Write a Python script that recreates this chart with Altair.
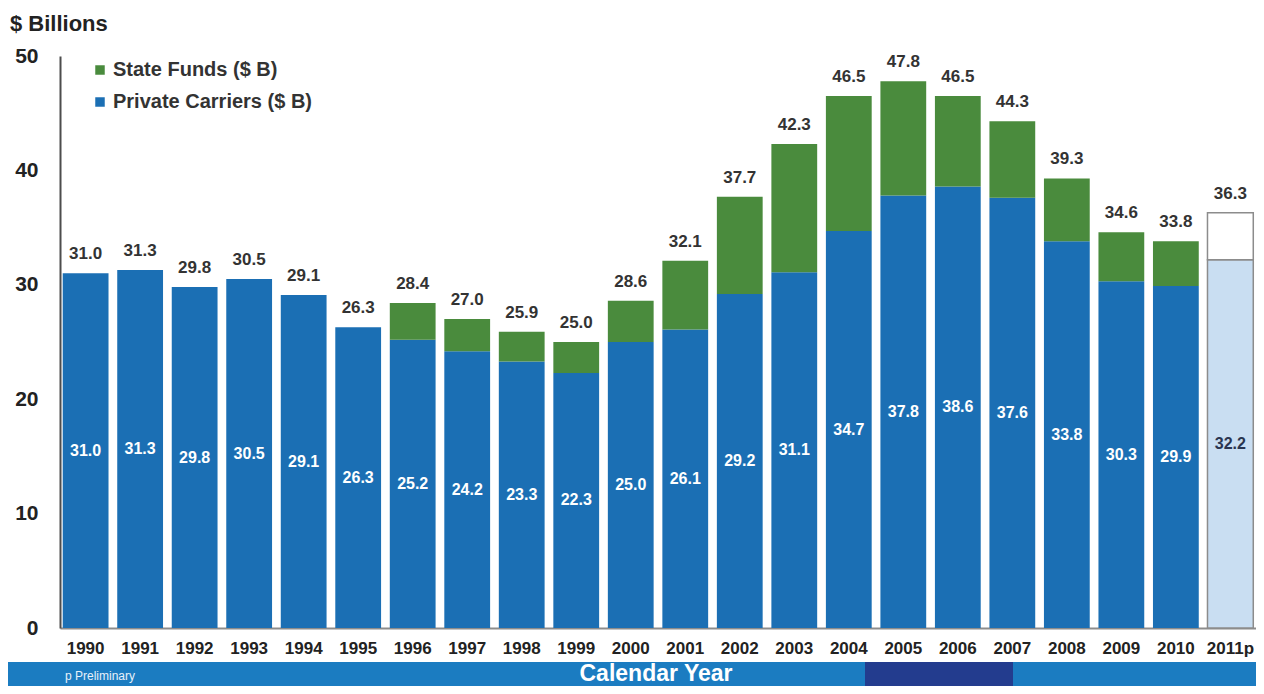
import altair as alt
import pandas as pd

FONT = "Liberation Sans"

years = ["1990", "1991", "1992", "1993", "1994", "1995", "1996", "1997", "1998", "1999",
         "2000", "2001", "2002", "2003", "2004", "2005", "2006", "2007", "2008", "2009",
         "2010", "2011p"]
private = [31.0, 31.3, 29.8, 30.5, 29.1, 26.3, 25.2, 24.2, 23.3, 22.3,
           25.0, 26.1, 29.2, 31.1, 34.7, 37.8, 38.6, 37.6, 33.8, 30.3,
           29.9, 32.2]
totals = [31.0, 31.3, 29.8, 30.5, 29.1, 26.3, 28.4, 27.0, 25.9, 25.0,
          28.6, 32.1, 37.7, 42.3, 46.5, 47.8, 46.5, 44.3, 39.3, 34.6,
          33.8, 36.3]
series = ["State Funds ($ B)", "Private Carriers ($ B)"]
prelim_keys = ["State Funds (prelim)", "Private Carriers (prelim)"]
colors = ["#4a8b3d", "#1b6fb4", "#ffffff", "#c9def2"]

rows = []
for yr, p, t in zip(years, private, totals):
    pre = yr.endswith("p")
    rows.append(dict(year=yr, key=prelim_keys[1] if pre else series[1],
                     y0=0.0, y1=p, pre=pre))
    if t - p > 0.05:
        rows.append(dict(year=yr, key=prelim_keys[0] if pre else series[0],
                         y0=p, y1=t, pre=pre))
bars_df = pd.DataFrame(rows)
priv_df = pd.DataFrame(dict(year=years, value=private, mid=[v / 2 for v in private],
                            pre=[y.endswith("p") for y in years]))
tot_df = pd.DataFrame(dict(year=years, total=totals))

x_enc = alt.X(
    "year:N", sort=years,
    scale=alt.Scale(paddingInner=0.16, paddingOuter=0.05),
    axis=alt.Axis(title=None, labelAngle=0, labelFont=FONT, labelFontSize=17,
                  labelFontWeight="bold", labelColor="#222222", ticks=False,
                  domainColor="#8c8c8c", domainWidth=2, labelPadding=12),
)
yscale = alt.Scale(domain=[0, 50], nice=False)
y_axis = alt.Axis(title=None, values=[0, 10, 20, 30, 40, 50], grid=False, ticks=False,
                  labelFont=FONT, labelFontSize=21, labelFontWeight="bold",
                  labelColor="#222222", domainColor="#4d4d4d", domainWidth=2,
                  labelPadding=22, labelOverlap=False)

bars = alt.Chart(bars_df).mark_bar(strokeWidth=1.5).encode(
    x=x_enc,
    y=alt.Y("y1:Q", scale=yscale, axis=y_axis),
    y2="y0:Q",
    color=alt.Color(
        "key:N",
        scale=alt.Scale(domain=series + prelim_keys, range=colors),
        legend=alt.Legend(
            title=None, values=series, orient="none", legendX=30, legendY=4,
            symbolType="square", symbolSize=90, symbolStrokeWidth=0,
            labelFont=FONT, labelFontSize=20, labelFontWeight="bold",
            labelColor="#333333", rowPadding=12, labelOffset=3, padding=0,
            labelLimit=0,
        ),
    ),
    stroke=alt.condition("datum.pre", alt.value("#8c8c8c"), alt.value("transparent")),
)

top_labels = alt.Chart(tot_df).mark_text(
    font=FONT, fontSize=17, fontWeight="bold", color="#333333",
    baseline="middle", dy=-19,
).encode(
    x=alt.X("year:N", sort=years),
    y=alt.Y("total:Q", scale=yscale),
    text=alt.Text("total:Q", format=".1f"),
)

inner_labels = alt.Chart(priv_df).mark_text(
    font=FONT, fontSize=16, fontWeight="bold", baseline="middle",
).encode(
    x=alt.X("year:N", sort=years),
    y=alt.Y("mid:Q", scale=yscale),
    text=alt.Text("value:Q", format=".1f"),
    color=alt.condition("datum.pre", alt.value("#2a3550"), alt.value("#ffffff")),
)

# decorative footer banner
band = alt.Chart(pd.DataFrame({"k": [0]})).mark_rect(color="#1b7cc1").encode(
    x=alt.value(-52), x2=alt.value(1196), y=alt.value(606), y2=alt.value(632)
)
dark = alt.Chart(pd.DataFrame({"k": [0]})).mark_rect(color="#233c8e").encode(
    x=alt.value(805), x2=alt.value(953), y=alt.value(606), y2=alt.value(632)
)
cal = alt.Chart(pd.DataFrame({"t": ["Calendar Year"]})).mark_text(
    font=FONT, fontSize=23, fontWeight="bold", color="#ffffff",
    align="center", baseline="middle",
).encode(text="t:N", x=alt.value(596), y=alt.value(618))
prelim = alt.Chart(pd.DataFrame({"t": ["p Preliminary"]})).mark_text(
    font=FONT, fontSize=12, color="#e8f1fa", align="left", baseline="middle",
).encode(text="t:N", x=alt.value(5), y=alt.value(620))
ytitle = alt.Chart(pd.DataFrame({"t": ["$ Billions"]})).mark_text(
    font=FONT, fontSize=22, fontWeight="bold", color="#222222",
    align="left", baseline="middle",
).encode(text="t:N", x=alt.value(-50), y=alt.value(-32))

chart = alt.layer(
    band, dark, cal, prelim, bars, top_labels, inner_labels, ytitle
).properties(
    width=1196, height=572,
    autosize=alt.AutoSizeParams(type="none"),
    padding={"left": 52, "top": 48, "right": 0, "bottom": 58},
    background="#ffffff",
).configure_view(stroke=None)

chart.save("out.html", embed_options={"renderer": "svg", "actions": False})
